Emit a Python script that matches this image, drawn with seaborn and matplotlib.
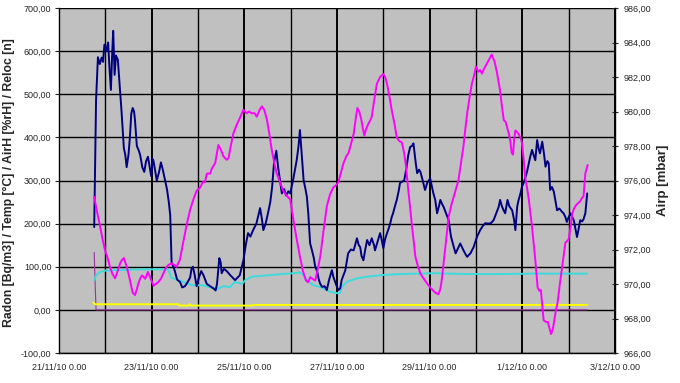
import seaborn as sns
import matplotlib.pyplot as plt
from matplotlib.ticker import FuncFormatter, MultipleLocator

# time is in days since 21/11/10 0.00
radon_t = [0.76, 0.78, 0.80, 0.84, 0.88, 0.92, 0.95, 0.98, 1.02, 1.06, 1.09, 1.12, 1.15, 1.17, 1.20,
           1.23, 1.27, 1.31, 1.35, 1.40, 1.43, 1.46, 1.50, 1.53, 1.56, 1.59, 1.62, 1.64, 1.68, 1.72,
           1.75, 1.80, 1.84, 1.88, 1.92, 1.96, 1.99, 2.02, 2.04, 2.08, 2.11, 2.16, 2.20, 2.24, 2.27,
           2.33, 2.37, 2.40, 2.43, 2.47, 2.50, 2.55, 2.61, 2.66, 2.72, 2.78, 2.83, 2.86, 2.89, 2.93,
           2.97, 3.02, 3.07, 3.12, 3.19, 3.26, 3.33, 3.38, 3.41, 3.46, 3.49, 3.51, 3.56, 3.62, 3.70,
           3.80, 3.90, 3.98, 4.03, 4.08, 4.13, 4.19, 4.26, 4.34, 4.38, 4.41, 4.46, 4.51, 4.56, 4.60,
           4.64, 4.69, 4.73, 4.77, 4.81, 4.86, 4.90, 4.95, 4.99, 5.05, 5.10, 5.13, 5.17, 5.20, 5.24,
           5.28, 5.32, 5.35, 5.38, 5.42, 5.46, 5.50, 5.53, 5.57, 5.61, 5.64, 5.68, 5.73, 5.78, 5.83,
           5.89, 5.92, 5.96, 6.00, 6.03, 6.07, 6.10, 6.18, 6.24, 6.30, 6.36, 6.43, 6.47, 6.50, 6.53,
           6.57, 6.61, 6.65, 6.70, 6.75, 6.80, 6.82, 6.88, 6.93, 6.97, 7.00, 7.04, 7.08, 7.12, 7.15,
           7.18, 7.21, 7.25, 7.29, 7.33, 7.36, 7.40, 7.45, 7.50, 7.54, 7.58, 7.62, 7.65, 7.70, 7.73,
           7.77, 7.80, 7.85, 7.90, 7.95, 8.01, 8.05, 8.08, 8.12, 8.16, 8.20, 8.23, 8.27, 8.30, 8.35,
           8.41, 8.46, 8.52, 8.56, 8.60, 8.66, 8.70, 8.73, 8.78, 8.81, 8.85, 8.88, 8.95, 9.02, 9.09,
           9.15, 9.20, 9.27, 9.32, 9.38, 9.44, 9.49, 9.52, 9.56, 9.60, 9.63, 9.68, 9.72, 9.78, 9.82,
           9.85, 9.89, 9.92, 9.96, 9.99, 10.03, 10.06, 10.10, 10.14, 10.17, 10.21, 10.24, 10.28, 10.32,
           10.35, 10.38, 10.43, 10.47, 10.50, 10.54, 10.57, 10.60, 10.64, 10.68, 10.72, 10.75, 10.80,
           10.85, 10.89, 10.93, 10.96, 11.00, 11.04, 11.08, 11.11, 11.15, 11.18, 11.21, 11.25, 11.29,
           11.32, 11.36, 11.40]
radon = [192, 340, 487, 586, 570, 585, 575, 615, 600, 620, 560, 510, 600, 647, 545,
         590, 580, 520, 460, 375, 360, 331, 360, 400, 455, 468, 460, 440, 380, 370,
         360, 330, 320, 345, 355, 330, 310, 350, 345, 320, 300, 320, 342, 325, 310,
         280, 250, 220, 110, 100, 90, 70, 65, 52, 55, 65, 75, 95, 100, 80,
         55, 75, 90, 80, 60, 55, 50, 45, 60, 120, 110, 85, 95, 90, 80,
         69, 80, 115, 150, 178, 170, 185, 200, 236, 210, 185, 200, 224, 250, 285,
         340, 369, 330, 300, 270, 280, 265, 275, 270, 300, 330, 347, 380, 417, 360,
         300, 280, 262, 224, 154, 138, 120, 100, 90, 69, 60, 53, 55, 46, 70,
         92, 77, 65, 53, 46, 50, 69, 92, 131, 140, 138, 166, 150, 146, 125,
         115, 140, 162, 150, 166, 150, 138, 160, 178, 160, 143, 165, 178, 190, 201,
         215, 224, 240, 255, 275, 294, 297, 300, 330, 360, 378, 380, 386, 340, 317,
         325, 320, 300, 278, 295, 305, 285, 270, 255, 224, 240, 255, 245, 239, 225,
         208, 170, 146, 131, 140, 154, 145, 138, 128, 123, 128, 131, 146, 169, 185,
         195, 201, 200, 201, 208, 225, 239, 255, 240, 230, 224, 255, 240, 231, 210,
         185, 240, 255, 270, 285, 295, 305, 320, 340, 355, 371, 360, 347, 394,
         375, 363, 390, 360, 332, 345, 340, 278, 285, 274, 250, 231, 235,
         228, 224, 215, 204, 215, 224, 215, 208, 185, 169, 185, 208, 205,
         210, 224, 270]

airp_t = [0.76, 0.82, 0.89, 0.94, 0.99, 1.05, 1.10, 1.15, 1.21, 1.26, 1.32, 1.36, 1.40, 1.45, 1.50,
          1.55, 1.59, 1.64, 1.68, 1.71, 1.75, 1.79, 1.83, 1.86, 1.92, 1.98, 2.04, 2.09, 2.14, 2.20,
          2.25, 2.30, 2.36, 2.43, 2.49, 2.54, 2.61, 2.68, 2.76, 2.83, 2.90, 2.97, 3.05, 3.10, 3.15,
          3.19, 3.26, 3.30, 3.37, 3.41, 3.44, 3.49, 3.55, 3.62, 3.66, 3.70, 3.76, 3.83, 3.90, 3.98,
          4.05, 4.10, 4.16, 4.22, 4.27, 4.33, 4.38, 4.43, 4.49, 4.54, 4.59, 4.64, 4.70, 4.77, 4.84,
          4.92, 4.99, 5.06, 5.13, 5.20, 5.26, 5.33, 5.38, 5.42, 5.47, 5.53, 5.58, 5.64, 5.71, 5.78,
          5.85, 5.92, 5.97, 6.03, 6.08, 6.14, 6.20, 6.25, 6.30, 6.36, 6.40, 6.44, 6.48, 6.52, 6.56,
          6.59, 6.63, 6.68, 6.72, 6.75, 6.80, 6.86, 6.93, 7.00, 7.04, 7.08, 7.13, 7.18, 7.24, 7.29,
          7.34, 7.40, 7.45, 7.49, 7.54, 7.58, 7.62, 7.66, 7.69, 7.75, 7.80, 7.90, 8.01, 8.12, 8.19,
          8.23, 8.26, 8.30, 8.34, 8.41, 8.47, 8.52, 8.58, 8.62, 8.68, 8.73, 8.77, 8.81, 8.86, 8.91,
          8.96, 9.00, 9.05, 9.09, 9.13, 9.16, 9.22, 9.28, 9.34, 9.40, 9.45, 9.52, 9.56, 9.60, 9.64,
          9.67, 9.71, 9.74, 9.77, 9.80, 9.82, 9.85, 9.89, 9.92, 9.96, 9.99, 10.03, 10.06, 10.10,
          10.14, 10.21, 10.28, 10.33, 10.37, 10.40, 10.43, 10.46, 10.51, 10.55, 10.58, 10.62, 10.66,
          10.69, 10.72, 10.76, 10.81, 10.86, 10.93, 10.97, 11.00, 11.04, 11.08, 11.12, 11.17, 11.21,
          11.25, 11.29, 11.32, 11.36, 11.41]
airp = [975.06, 974.2, 973.3, 972.6, 972.0, 971.5, 971.0, 970.6, 970.33, 970.7, 971.2, 971.4, 971.5, 971.1, 970.6,
        970.0, 969.5, 969.36, 969.7, 970.0, 970.3, 970.5, 970.4, 970.3, 970.7, 970.3, 969.9, 970.0, 970.1, 970.3,
        970.6, 970.9, 971.1, 971.2, 971.1, 971.0, 971.4, 972.4, 973.5, 974.3, 974.9, 975.4, 975.6, 975.9, 975.9,
        976.4, 976.4, 976.7, 977.0, 977.6, 978.06, 977.8, 977.4, 977.2, 977.3, 977.9, 978.7, 979.2, 979.6, 980.1,
        979.9, 980.0, 979.9, 979.9, 979.7, 980.1, 980.3, 980.1, 979.5, 978.7, 977.8, 977.1, 976.4, 975.9, 975.4,
        975.1, 974.9, 973.7, 972.6, 971.6, 970.8, 970.2, 970.1, 970.4, 970.3, 970.2, 970.8, 971.6, 973.1, 974.5,
        975.2, 975.6, 975.7, 975.9, 976.4, 977.0, 977.4, 977.6, 978.1, 978.7, 979.5, 980.2, 980.0, 979.6, 979.0,
        978.6, 979.0, 979.3, 979.5, 979.7, 980.6, 981.6, 982.0, 982.17, 982.0, 981.6, 980.9, 980.1, 979.3, 978.5,
        978.3, 978.2, 977.6, 976.8, 975.4, 974.4, 973.3, 972.4, 971.6, 971.0, 970.6, 970.2, 969.8, 969.5, 969.4,
        969.7, 970.2, 971.2, 972.2, 973.9, 974.6, 975.06, 975.6, 976.0, 977.1, 978.0, 979.0, 979.9, 980.8, 981.6,
        982.1, 982.6, 982.3, 982.4, 982.2, 982.4, 982.7, 983.0, 983.3, 982.9, 982.3, 981.2, 980.3, 979.5, 979.4,
        979.1, 978.7, 978.3, 977.6, 977.5, 978.3, 978.9, 978.8, 978.7, 978.5, 978.2, 977.2, 976.2, 975.6,
        974.9, 973.3, 971.4, 969.8, 969.6, 969.65, 968.8, 967.9, 967.8, 967.8, 967.5, 967.1, 967.4,
        967.9, 968.4, 968.9, 970.0, 971.0, 972.4, 972.5, 972.6, 973.3, 974.1, 974.4, 974.6, 974.7,
        974.8, 975.0, 975.06, 976.4, 976.9]

airh_t = [0.76, 0.80, 0.85, 0.89, 1.0, 1.2, 1.5, 1.8, 2.1, 2.35, 2.38, 2.42, 2.5, 2.68, 2.8, 2.9,
          3.1, 3.2, 3.33, 3.45, 3.55, 3.69, 3.8, 3.95, 4.02, 4.16, 4.49, 4.8, 5.06, 5.2, 5.28,
          5.35, 5.49, 5.64, 5.85, 6.04, 6.07, 6.10, 6.21, 6.43, 6.65, 7.0, 7.36, 8.09, 8.8, 9.52,
          10.24, 11.40]
airh = [69, 80, 85, 88, 91, 92, 93, 94, 94, 94, 88, 75, 72, 65, 60, 57,
        57, 54, 50, 50, 55, 53, 65, 60, 69, 77, 80, 83, 85, 87, 80,
        69, 57, 53, 42, 38, 40, 53, 65, 73, 77, 81, 83, 85, 83, 83,
        84, 84]

temp_t = [0.74, 0.78, 2.58, 2.60, 2.80, 2.82, 2.86, 4.17, 4.19, 11.40]
temp = [17, 13, 13, 10, 10, 13, 10, 10, 11.5, 11.5]

reloc_t = [0.76, 0.78, 0.80, 11.40]
reloc = [133, 60, 0, 0]

tick_days = [0, 2, 4, 6, 8, 10, 12]
tick_labels = ['21/11/10 0.00', '23/11/10 0.00', '25/11/10 0.00', '27/11/10 0.00',
               '29/11/10 0.00', '1/12/10 0.00', '3/12/10 0.00']

sns.set_style('white')
plt.rcParams['font.family'] = ['Liberation Sans', 'DejaVu Sans']

fig = plt.figure(figsize=(6.8, 3.83), dpi=100)
ax = fig.add_axes([59 / 680, 30 / 383, 556 / 680, 345 / 383])
ax2 = ax.twinx()
ax.set_facecolor('#c0c0c0')

lw = 1.4
sns.lineplot(x=reloc_t, y=reloc, ax=ax, color='#993399', lw=0.8, estimator=None, sort=False)
sns.lineplot(x=temp_t, y=temp, ax=ax, color='#ffff00', lw=lw, estimator=None, sort=False)
sns.lineplot(x=airh_t, y=airh, ax=ax, color='#3cdcdc', lw=lw, estimator=None, sort=False)
sns.lineplot(x=radon_t, y=radon, ax=ax, color='#000080', lw=lw, estimator=None, sort=False)
sns.lineplot(x=airp_t, y=airp, ax=ax2, color='#ff00ff', lw=lw, estimator=None, sort=False)

ax.set_xlim(0, 12)
ax.set_ylim(-100, 700)
ax2.set_ylim(966, 986)

comma = FuncFormatter(lambda v, p: f'{v:.2f}'.replace('.', ','))
ax.yaxis.set_major_locator(MultipleLocator(100))
ax.yaxis.set_major_formatter(comma)
ax2.yaxis.set_major_locator(MultipleLocator(2))
ax2.yaxis.set_major_formatter(comma)

ax.set_xticks(tick_days)
ax.set_xticklabels(tick_labels)
ax.xaxis.set_minor_locator(MultipleLocator(1))

ax.set_axisbelow(True)
ax.grid(axis='x', which='major', color='black', lw=1.4)
ax.grid(axis='x', which='minor', color='black', lw=1.0)
ax.grid(axis='y', which='major', color='black', lw=1.0)

ax.tick_params(axis='x', which='both', length=0, pad=7, labelsize=6.5)
ax.tick_params(axis='y', length=3, width=0.8, pad=2.5, labelsize=6.5, left=True)
ax2.tick_params(axis='y', direction='inout', length=5, width=0.8, pad=4, labelsize=6.5, right=True)

for a in (ax, ax2):
    a.set_xlabel('')
    a.set_ylabel('')
    a.spines['top'].set_visible(False)
ax.spines['right'].set_visible(False)
ax2.spines['left'].set_visible(False)
ax2.spines['bottom'].set_visible(False)
for s in ('left', 'bottom'):
    ax.spines[s].set_color('black')
    ax.spines[s].set_linewidth(1.0)
ax2.spines['right'].set_color('black')
ax2.spines['right'].set_linewidth(1.0)

fig.text(9 / 680, 1 - 183 / 383, 'Radon [Bq/m3] / Temp [°C] / AirH [%rH] / Reloc [n]',
         rotation=90, ha='center', va='center', fontsize=8.8, fontweight='bold')
fig.text(663 / 680, 1 - 180 / 383, 'Airp [mbar]',
         rotation=90, ha='center', va='center', fontsize=9.5, fontweight='bold')

fig.savefig('out.png', dpi=100)
